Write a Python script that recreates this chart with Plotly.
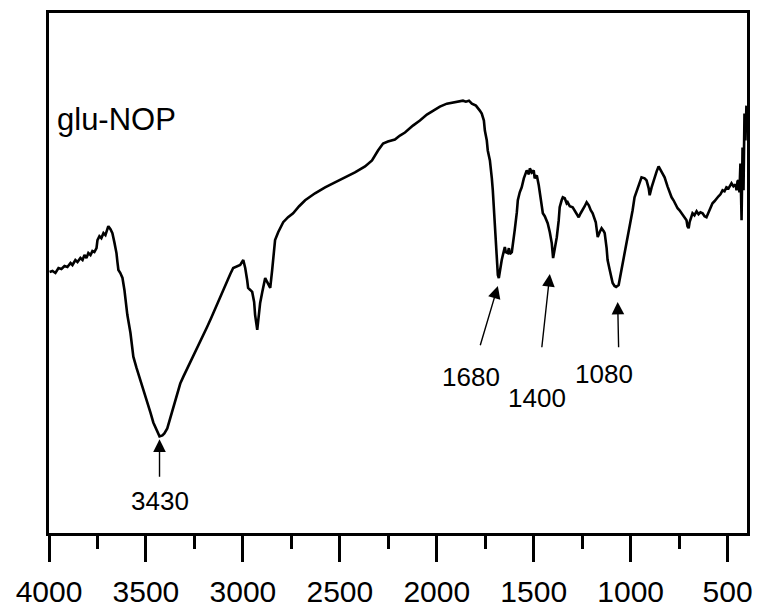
import plotly.graph_objects as go

# FT-IR spectrum of glu-NOP (wavenumber in cm-1, transmittance in a.u.)
wavenumber = [
    3997, 3982, 3967, 3951, 3936, 3920, 3905, 3889, 3879, 3864, 3853, 3838, 3827, 3817, 3807, 3797,
    3786, 3776, 3766, 3755, 3750, 3740, 3730, 3719, 3709, 3699, 3694, 3683, 3673, 3663, 3652, 3647,
    3642, 3632, 3621, 3611, 3606, 3596, 3580, 3565, 3549, 3529, 3508, 3493, 3477, 3462, 3446, 3436,
    3430, 3415, 3405, 3390, 3374, 3359, 3338, 3323, 3307, 3287, 3271, 3256, 3235, 3220, 3199, 3184,
    3163, 3143, 3127, 3117, 3096, 3081, 3065, 3050, 3034, 3014, 2998, 2988, 2978, 2973, 2962, 2952,
    2942, 2937, 2926, 2921, 2911, 2900, 2885, 2875, 2859, 2849, 2839, 2834, 2818, 2792, 2767, 2741,
    2710, 2679, 2628, 2576, 2525, 2473, 2422, 2370, 2334, 2303, 2277, 2252, 2216, 2190, 2164, 2123,
    2087, 2051, 2020, 1984, 1948, 1917, 1891, 1865, 1850, 1834, 1819, 1798, 1778, 1768, 1757, 1752,
    1742, 1737, 1726, 1721, 1716, 1711, 1706, 1701, 1695, 1690, 1685, 1680, 1675, 1665, 1659, 1649,
    1644, 1634, 1628, 1623, 1613, 1603, 1598, 1587, 1582, 1572, 1562, 1551, 1541, 1536, 1525, 1520,
    1510, 1500, 1495, 1484, 1474, 1469, 1459, 1453, 1443, 1428, 1417, 1407, 1400, 1392, 1381, 1371,
    1366, 1356, 1350, 1340, 1330, 1325, 1314, 1299, 1283, 1268, 1258, 1247, 1237, 1227, 1216, 1206,
    1196, 1180, 1170, 1160, 1150, 1139, 1134, 1124, 1119, 1108, 1093, 1083, 1075, 1062, 1057, 1047,
    1031, 1016, 1005, 990, 980, 964, 944, 928, 918, 907, 902, 892, 877, 866, 856, 846,
    835, 825, 810, 799, 789, 779, 768, 758, 748, 732, 722, 712, 707, 701, 696, 686,
    681, 671, 660, 650, 640, 629, 619, 609, 598, 588, 578, 568, 557, 547, 537, 526,
    516, 506, 495, 480, 470, 459, 454, 449, 444, 439, 434, 428, 423, 418, 413, 408,
    403,
]
transmittance = [
    52.4, 52.6, 52.2, 53.2, 53.0, 53.6, 53.4, 54.2, 53.8, 54.8, 54.4, 55.2, 54.8, 55.8, 55.2, 56.2,
    55.8, 56.6, 56.4, 57.2, 58.8, 59.6, 59.2, 60.2, 59.8, 61.2, 61.6, 61.0, 60.2, 58.4, 56.2, 54.4,
    52.8, 52.2, 51.2, 48.8, 46.8, 43.8, 40.2, 35.4, 33.2, 30.8, 28.2, 26.2, 24.2, 22.2, 20.6, 19.8,
    19.4, 19.6, 20.0, 21.0, 23.2, 25.4, 28.2, 30.0, 31.4, 33.0, 34.4, 35.4, 37.0, 38.4, 40.0, 41.4,
    43.2, 45.0, 46.4, 47.4, 49.2, 50.8, 52.0, 53.2, 53.4, 53.8, 54.8, 53.2, 50.8, 49.2, 48.8, 48.4,
    46.4, 43.8, 40.8, 42.4, 46.2, 48.4, 51.2, 50.4, 49.2, 52.8, 56.8, 58.8, 60.4, 62.4, 63.4, 64.2,
    65.6, 66.8, 68.2, 69.4, 70.4, 71.4, 72.4, 73.6, 74.8, 76.8, 78.2, 78.6, 79.0, 79.8, 80.4, 81.8,
    82.8, 84.0, 84.8, 85.6, 86.2, 86.4, 86.6, 86.8, 86.6, 86.8, 86.2, 85.8, 84.8, 84.2, 82.8, 80.8,
    78.8, 76.8, 74.8, 73.4, 71.2, 68.8, 65.8, 62.2, 58.8, 55.4, 51.8, 51.2, 52.8, 54.8, 55.8, 57.4,
    56.4, 56.2, 57.2, 56.0, 56.4, 58.8, 60.8, 64.4, 66.8, 68.4, 69.4, 71.2, 72.4, 72.8, 72.0, 73.2,
    72.4, 72.8, 71.2, 71.8, 69.8, 68.2, 65.8, 64.2, 63.6, 62.2, 60.4, 58.2, 55.2, 56.8, 59.4, 62.8,
    65.4, 66.8, 67.4, 67.2, 66.2, 66.4, 65.6, 65.4, 64.4, 63.4, 64.2, 64.8, 65.6, 66.4, 65.8, 64.8,
    64.2, 62.4, 59.4, 60.4, 61.2, 60.6, 60.2, 57.2, 54.8, 52.8, 50.2, 49.6, 49.4, 49.8, 50.8, 53.2,
    56.2, 59.2, 61.4, 64.8, 67.4, 69.4, 71.4, 71.2, 70.8, 69.2, 67.8, 69.4, 71.4, 72.6, 73.6, 72.8,
    72.0, 71.4, 69.6, 68.4, 67.4, 66.8, 66.0, 65.2, 64.8, 63.8, 63.2, 62.8, 61.6, 61.2, 62.4, 63.8,
    64.2, 63.8, 64.6, 64.0, 64.4, 64.2, 63.6, 63.4, 64.4, 65.2, 66.2, 66.6, 67.2, 67.6, 68.0, 68.8,
    68.6, 69.4, 69.2, 70.2, 69.6, 70.0, 68.8, 70.6, 70.8, 68.4, 74.2, 62.8, 77.4, 68.8, 84.2, 78.8,
    85.8,
]

sample_label = "glu-NOP"
peak_labels = ["3430", "1680", "1400", "1080"]
# arrow tip, arrow tail and label centre for each marked band (data coordinates)
peak_tip_x = [3430, 1685, 1417, 1067]
peak_tip_y = [18.8, 49.6, 52.0, 46.4]
peak_tail_x = [3430, 1778, 1459, 1062]
peak_tail_y = [11.0, 37.4, 37.0, 37.0]
peak_text_x = [3430, 1825, 1484, 1139]
peak_text_y = [6.4, 31.4, 27.2, 32.0]

x_ticks = [4000, 3500, 3000, 2500, 2000, 1500, 1000, 500]
x_minor_ticks = [3750, 3250, 2750, 2250, 1750, 1250, 750]

FONT = "Arial, Liberation Sans, sans-serif"

fig = go.Figure()
fig.add_trace(go.Scatter(
    x=wavenumber, y=transmittance, mode="lines",
    line=dict(color="black", width=2.6), showlegend=False, hoverinfo="skip",
))

annotations = []
for lab, tx, ty, ax, ay, lx, ly in zip(peak_labels, peak_tip_x, peak_tip_y,
                                        peak_tail_x, peak_tail_y, peak_text_x, peak_text_y):
    annotations.append(dict(
        x=tx, y=ty, xref="x", yref="y", ax=ax, ay=ay, axref="x", ayref="y",
        text="", showarrow=True, arrowhead=2, arrowsize=1.8, arrowwidth=1.4,
        arrowcolor="black", standoff=0, startstandoff=0,
    ))
    annotations.append(dict(
        x=lx, y=ly, xref="x", yref="y", text=lab, showarrow=False,
        font=dict(family=FONT, size=26, color="black"),
        xanchor="center", yanchor="middle",
    ))
annotations.append(dict(
    x=0.008, y=83.0, xref="paper", yref="y", text=sample_label, showarrow=False,
    font=dict(family=FONT, size=31, color="black"), xanchor="left", yanchor="middle",
))

fig.update_layout(
    width=760, height=612,
    margin=dict(l=49, r=13, t=13, b=79),
    paper_bgcolor="white", plot_bgcolor="white",
    annotations=annotations,
    xaxis=dict(
        range=[4000, 400], tickmode="array", tickvals=x_ticks,
        ticktext=[str(v) for v in x_ticks],
        ticks="outside", ticklen=26, tickwidth=3, tickcolor="black",
        ticklabelstandoff=4, automargin=False,
        minor=dict(ticks="outside", ticklen=13, tickwidth=3, tickcolor="black",
                   tickmode="array", tickvals=x_minor_ticks),
        showline=True, linewidth=3, linecolor="black", mirror=True,
        showgrid=False, zeroline=False,
        tickfont=dict(family=FONT, size=30, color="black"),
    ),
    yaxis=dict(
        range=[0, 104.4], showticklabels=False, ticks="", automargin=False,
        showline=True, linewidth=3, linecolor="black", mirror=True,
        showgrid=False, zeroline=False,
    ),
)

fig.write_html("out.html")
